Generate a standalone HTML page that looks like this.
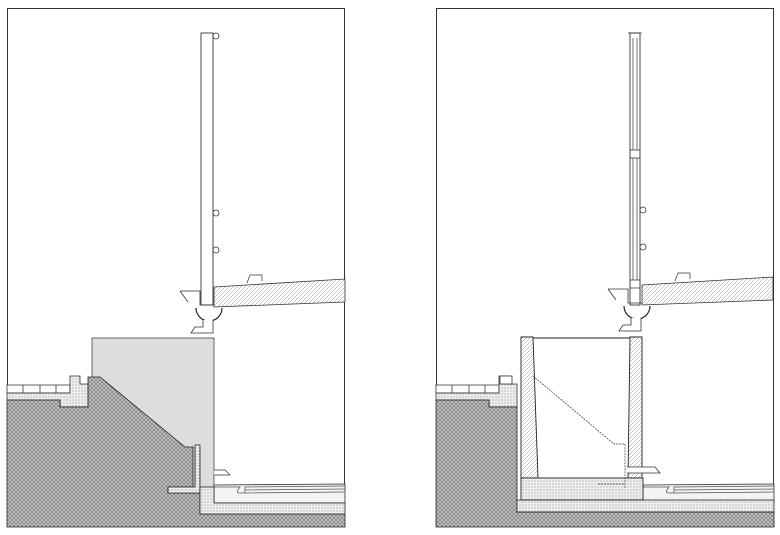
<!DOCTYPE html>
<html><head><meta charset="utf-8"><style>body{margin:0;background:#fff}svg{display:block}</style></head><body>
<svg width="780" height="535" viewBox="0 0 780 535" xmlns="http://www.w3.org/2000/svg">
<defs>
<pattern id="x" width="4" height="4" patternUnits="userSpaceOnUse"><rect width="4" height="4" fill="#c4c4c4"/><path d="M0 0L4 4M4 0L0 4" stroke="#707070" stroke-width="0.6"/></pattern>
<pattern id="d" width="3" height="3" patternUnits="userSpaceOnUse"><rect width="3" height="3" fill="#eee"/><circle cx="1" cy="1" r="0.6" fill="#999"/></pattern>
<pattern id="h" width="4" height="4" patternUnits="userSpaceOnUse"><rect width="4" height="4" fill="#fff"/><path d="M0 4L4 0" stroke="#888" stroke-width="0.5"/></pattern>
<g id="top">
<path d="M180 291L200 291L200 305L214 305 M180 291L188 302" fill="none" stroke="#333" stroke-width="0.8"/>
<path d="M214 287L345 279L345 302L214 307Z" fill="url(#h)" stroke="#333" stroke-width="0.8"/>
<path d="M247 283L250 275L262 275L262 281" fill="#fff" stroke="#333" stroke-width="0.7"/>
<path d="M196 308A13 13 0 0 0 222 308" fill="#fff" stroke="#222" stroke-width="1.2"/>
<path d="M203 320L203 327L195 327L191 333L213 333L213 320" fill="#fff" stroke="#333" stroke-width="0.8"/>
</g>
<g id="grd">
<path d="M7 385L70 385L70 393L7 393Z" fill="#fff" stroke="#333" stroke-width="0.8"/>
<path d="M23 385V393M40 385V393M56 385V393" stroke="#333" stroke-width="0.8"/>
<path d="M7 393L70 393L70 376L80 376L80 384L88 384L88 407L60 407L60 400L7 400Z" fill="url(#d)" stroke="#333" stroke-width="0.8"/>
<path d="M214 485L345 484L345 503L214 503Z" fill="#f3f3f3" stroke="#333" stroke-width="0.8"/>
<path d="M214 487L240 487Q235 493 240 493L245 493L245 487L345 486M245 490L345 489M245 493L345 492" fill="none" stroke="#555" stroke-width="0.8"/>
</g>
</defs>
<rect x="7.5" y="8.5" width="337" height="518" fill="none" stroke="#333"/>
<rect x="436.5" y="8.5" width="337" height="518" fill="none" stroke="#333"/>
<rect x="201" y="33" width="12" height="272" fill="#fff" stroke="#333" stroke-width="0.9"/>
<g fill="#fff" stroke="#333" stroke-width="0.8"><circle cx="216" cy="36" r="3"/><circle cx="216" cy="213" r="3"/><circle cx="216" cy="250" r="3"/></g>
<use href="#top"/>
<rect x="92" y="338" width="122" height="150" fill="#ddd" stroke="#444" stroke-width="0.8"/>
<use href="#grd"/>
<path d="M7 400L60 400L60 407L88 407L88 377L100 377L185 447L193 447L193 487L168 487L168 493L200 493L200 514L345 514L345 527L7 527Z" fill="url(#x)" stroke="#222" stroke-width="0.8"/>
<path d="M195 445L200 445L200 493L168 493L168 487L195 487Z" fill="url(#d)" stroke="#222" stroke-width="0.8"/>
<path d="M200 487L214 487L214 503L345 503L345 514L200 514Z" fill="url(#d)" stroke="#222" stroke-width="0.8"/>
<path d="M214 470L225 470L230 475L214 475" fill="#fff" stroke="#333" stroke-width="0.7"/>
<rect x="630" y="33" width="10" height="272" fill="#fff" stroke="#333" stroke-width="0.9"/>
<path d="M633 38V150M637 38V150M633 158V280M637 158V280M630 150H640M630 158H640M630 280H640M630 288H640M628 33H642" stroke="#333" stroke-width="0.7"/>
<g fill="#fff" stroke="#333" stroke-width="0.8"><circle cx="643" cy="210" r="3"/><circle cx="643" cy="247" r="3"/></g>
<use href="#top" transform="translate(428,-2)"/>
<use href="#grd" transform="translate(429,0)"/>
<path d="M436 400L489 400L489 407L517 407L517 512L774 512L774 527L436 527Z" fill="url(#x)" stroke="#222" stroke-width="0.8"/>
<rect x="517" y="500" width="257" height="12" fill="url(#d)" stroke="#222" stroke-width="0.8"/>
<path d="M521 337L533 337L538 478L521 478Z" fill="url(#h)" stroke="#222" stroke-width="0.9"/>
<path d="M630 337L642 337L642 478L628 478Z" fill="url(#h)" stroke="#222" stroke-width="0.9"/>
<path d="M533 338H630" stroke="#222" stroke-width="0.9"/>
<rect x="521" y="478" width="122" height="22" fill="url(#d)" stroke="#222" stroke-width="0.9"/>
<rect x="500" y="376" width="12" height="8" fill="#fff" stroke="#333" stroke-width="0.8"/>
<path d="M533 376L614 444L625 444L625 488M598 484H625" fill="none" stroke="#333" stroke-width="0.7" stroke-dasharray="2 1"/>
<path d="M627 467L655 467L660 473L627 473" fill="#fff" stroke="#333" stroke-width="0.8"/>
</svg>
</body></html>
